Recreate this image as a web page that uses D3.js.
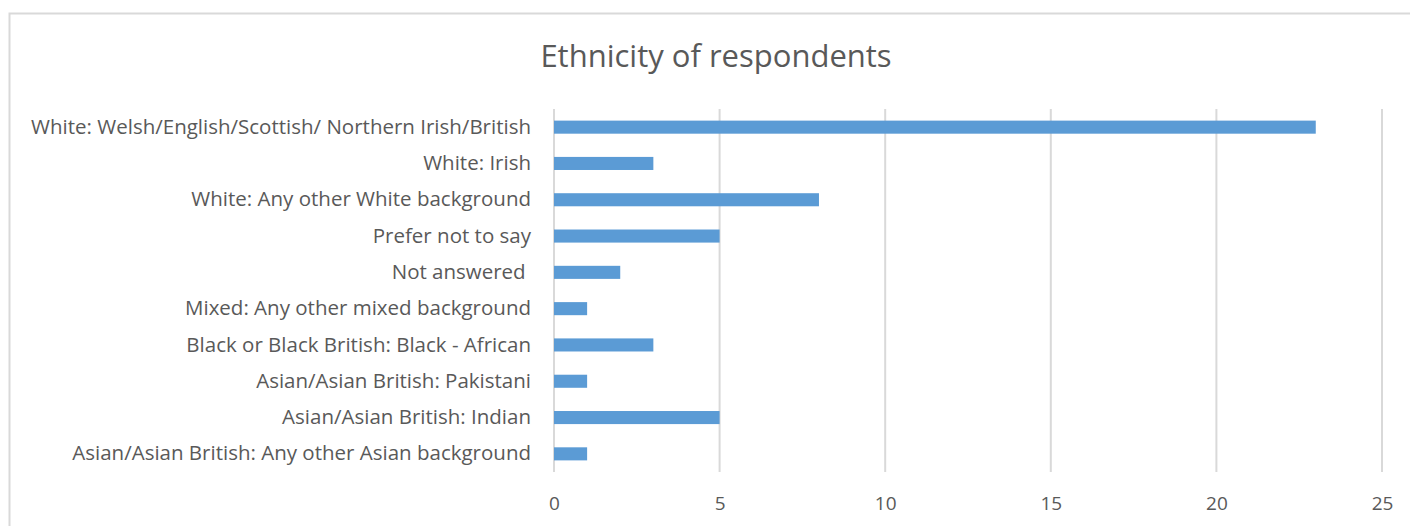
<!DOCTYPE html>
<html>
<head>
<meta charset="utf-8">
<script src="https://cdn.jsdelivr.net/npm/d3@7"></script>
<style>
  body { margin: 0; background: #fff; }
  text { font-family: "Open Sans", Lato, sans-serif; fill: #595959; white-space: pre; }
</style>
</head>
<body>
<svg id="chart"></svg>
<script>
const categories = [
    "White: Welsh/English/Scottish/ Northern Irish/British",
    "White: Irish",
    "White: Any other White background",
    "Prefer not to say",
    "Not answered ",
    "Mixed: Any other mixed background",
    "Black or Black British: Black - African",
    "Asian/Asian British: Pakistani",
    "Asian/Asian British: Indian",
    "Asian/Asian British: Any other Asian background"
];
const counts = [23, 3, 8, 5, 2, 1, 3, 1, 5, 1];
const xTicks = [0, 5, 10, 15, 20, 25];
const title = "Ethnicity of respondents";

const width = 1410, height = 526;
const margin = {left: 554, right: 28, top: 109, bottom: 54};

const svg = d3.select("#chart").attr("width", width).attr("height", height);

// chart frame
svg.append("rect")
    .attr("x", 9.5).attr("y", 13.5)
    .attr("width", width + 10).attr("height", height + 10)
    .attr("fill", "none").attr("stroke", "#d9d9d9").attr("stroke-width", 2);

svg.append("text")
    .attr("x", 716).attr("y", 67)
    .attr("text-anchor", "middle")
    .style("font-size", "31px")
    .text(title);

const x = d3.scaleLinear()
    .domain([0, 25])
    .range([margin.left, width - margin.right]);

const y = d3.scaleBand()
    .domain(categories)
    .range([margin.top, height - margin.bottom])
    .paddingInner(0.64)
    .paddingOuter(0.32);

// gridlines
svg.append("g")
    .selectAll("line").data(xTicks).enter().append("line")
    .attr("x1", d => x(d)).attr("x2", d => x(d))
    .attr("y1", margin.top).attr("y2", height - margin.bottom)
    .attr("stroke", "#d9d9d9").attr("stroke-width", 2);

// x axis labels
const xAxis = d3.axisBottom(x).tickValues(xTicks).tickSize(0).tickPadding(0);
const gx = svg.append("g")
    .attr("transform", "translate(0," + (height - margin.bottom) + ")")
    .call(xAxis);
gx.select(".domain").remove();
gx.selectAll("text")
    .attr("dy", null)
    .attr("y", 38)
    .style("font-size", "19px")
    .attr("fill", "#595959");

// y axis labels
const yAxis = d3.axisLeft(y).tickSize(0).tickPadding(23);
const gy = svg.append("g")
    .attr("transform", "translate(" + margin.left + ",0)")
    .call(yAxis);
gy.select(".domain").remove();
gy.selectAll("text")
    .style("font-size", "20.5px")
    .attr("fill", "#595959");

// bars
svg.append("g")
    .selectAll("rect").data(categories).enter().append("rect")
    .attr("x", x(0))
    .attr("y", d => y(d))
    .attr("width", (d, i) => x(counts[i]) - x(0))
    .attr("height", y.bandwidth())
    .attr("fill", "#5b9bd5");
</script>
</body>
</html>
